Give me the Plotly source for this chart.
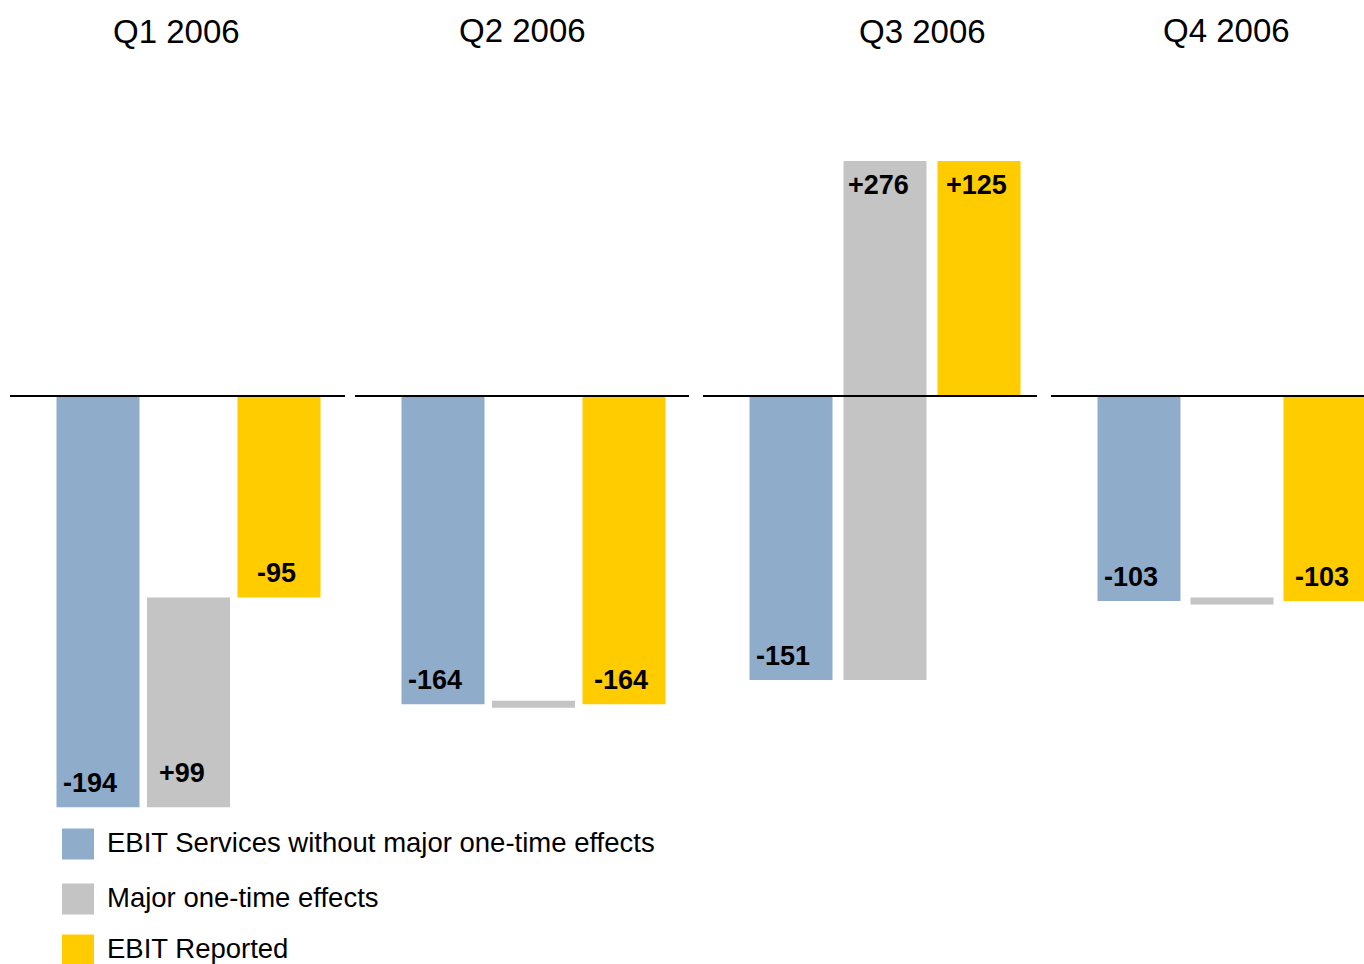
import plotly.graph_objects as go

# Quarterly EBIT bridge: services result, one-time effects, reported EBIT
quarters = ["Q1 2006", "Q2 2006", "Q3 2006", "Q4 2006"]
ebit_services = [-194, -164, -151, -103]
one_time_effects = [99, 0, 276, 0]
ebit_reported = [-95, -164, 125, -103]
series_names = [
    "EBIT Services without major one-time effects",
    "Major one-time effects",
    "EBIT Reported",
]

BLUE = "#8FADCB"
GRAY = "#C4C4C4"
YELLOW = "#FFCC00"
COLORS = [BLUE, GRAY, YELLOW]
FONT = "Arial, Liberation Sans, sans-serif"

W, H = 1364, 964
ZERO_PX = 396                      # vertical position of every panel's zero line
panel_px = [(10, 345), (355, 689), (703, 1037), (1051, 1364)]
px_per_unit = [2.12, 1.88, 1.88, 1.99]
step_px = [90.5, 90.5, 94.0, 93.0]
first_center_px = 88
bar_px = 83
label_font = 27
label_inset = 24
label_xshift = [-8, -7, -3]
one_time_label_at = ["base", None, "end", None]
title_px = [(176, 32), (522, 30), (923, 32), (1226, 30)]

fig = go.Figure()
layout_axes = {}
annotations = []
shapes = []

for i, q in enumerate(quarters):
    n = "" if i == 0 else str(i + 1)
    xa, ya = "x" + n, "y" + n
    x0p, x1p = panel_px[i]
    step = step_px[i]
    width = bar_px / step
    left = -first_center_px / step
    right = left + (x1p - x0p) / step
    s = px_per_unit[i]

    layout_axes["xaxis" + n] = dict(domain=[x0p / W, x1p / W], range=[left, right],
                                    visible=False, anchor=ya, fixedrange=True)
    layout_axes["yaxis" + n] = dict(domain=[0, 1], range=[-(H - ZERO_PX) / s, ZERO_PX / s],
                                    visible=False, anchor=xa, fixedrange=True)

    base_vals = [0, ebit_services[i], 0]
    deltas = [ebit_services[i], one_time_effects[i], ebit_reported[i]]

    for k in range(3):
        b, d = base_vals[k], deltas[k]
        if d != 0:
            fig.add_trace(go.Bar(x=[k], y=[d], base=[b], width=[width],
                                 marker=dict(color=COLORS[k], line=dict(width=0)),
                                 xaxis=xa, yaxis=ya, showlegend=False, hoverinfo="skip"))
            # value label inside the bar, near its far end (or near the base when requested)
            at_base = (k == 1 and one_time_label_at[i] == "base")
            end = b + d
            if at_base:
                y_lab = b
                shift = label_inset + 10 if d > 0 else -(label_inset + 10)
            else:
                y_lab = end
                shift = -label_inset if end > b else label_inset
            annotations.append(dict(x=k, y=y_lab, xref=xa, yref=ya, text=f"{d:+d}",
                                    showarrow=False, yshift=shift, xshift=label_xshift[k],
                                    font=dict(family=FONT, size=label_font, color="black",
                                              weight="bold")))
        else:
            # a zero effect is shown as a thin marker at the running level
            fig.add_trace(go.Scatter(x=[k - width / 2, k + width / 2], y=[b, b], mode="lines",
                                     line=dict(color=COLORS[k], width=7),
                                     xaxis=xa, yaxis=ya, showlegend=False, hoverinfo="skip"))

    # zero line of the panel
    shapes.append(dict(type="line", xref=xa + " domain", yref=ya, x0=0, x1=1, y0=0, y1=0,
                       line=dict(color="black", width=2), layer="above"))

    tx, ty = title_px[i]
    annotations.append(dict(x=tx / W, y=1 - ty / H, xref="paper", yref="paper", text=q,
                            showarrow=False, xanchor="center", yanchor="middle",
                            font=dict(family=FONT, size=33, color="black")))

# legend drawn as swatches with labels
legend_rows = [844, 899, 950]
for k, name in enumerate(series_names):
    cy = legend_rows[k]
    shapes.append(dict(type="rect", xref="paper", yref="paper",
                       x0=62 / W, x1=94 / W, y0=1 - (cy + 15.5) / H, y1=1 - (cy - 15.5) / H,
                       fillcolor=COLORS[k], line=dict(width=0)))
    annotations.append(dict(x=105 / W, y=1 - (cy - 2) / H, xref="paper", yref="paper",
                            text=name, showarrow=False, xanchor="left", yanchor="middle",
                            font=dict(family=FONT, size=27.5, color="black")))

fig.update_layout(
    width=W, height=H,
    margin=dict(l=0, r=0, t=0, b=0),
    paper_bgcolor="white", plot_bgcolor="white",
    barmode="overlay",
    showlegend=False,
    annotations=annotations,
    shapes=shapes,
    **layout_axes,
)

fig.write_html("out.html", config={"displayModeBar": False})
